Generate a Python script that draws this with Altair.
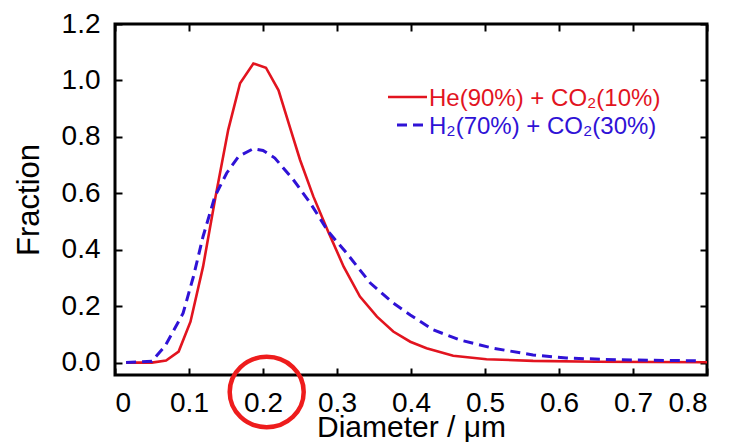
import altair as alt
import pandas as pd

# He(90%) + CO2(10%)
he_d = [0.015, 0.05, 0.069, 0.086, 0.102, 0.119, 0.136, 0.153, 0.169, 0.187, 0.204,
        0.221, 0.238, 0.25, 0.268, 0.288, 0.309, 0.331, 0.354, 0.376, 0.399, 0.421,
        0.457, 0.502, 0.565, 0.65, 0.8]
he_v = [0.0, 0.0, 0.007, 0.039, 0.145, 0.34, 0.59, 0.825, 0.99, 1.06, 1.045,
        0.965, 0.82, 0.719, 0.589, 0.465, 0.34, 0.234, 0.163, 0.11, 0.074, 0.051,
        0.024, 0.012, 0.006, 0.003, 0.001]

# H2(70%) + CO2(30%)
h2_d = [0.015, 0.05, 0.068, 0.092, 0.106, 0.119, 0.135, 0.151, 0.167, 0.187, 0.2,
        0.216, 0.241, 0.264, 0.288, 0.313, 0.345, 0.376, 0.399, 0.43, 0.466, 0.511,
        0.565, 0.61, 0.678, 0.79]
h2_v = [0.0, 0.005, 0.06, 0.175, 0.305, 0.447, 0.589, 0.672, 0.731, 0.758, 0.752,
        0.725, 0.648, 0.565, 0.465, 0.388, 0.282, 0.211, 0.169, 0.116, 0.08, 0.051,
        0.027, 0.016, 0.01, 0.006]

x_ticks = [0, 0.1, 0.2, 0.3, 0.4, 0.5, 0.6, 0.7, 0.8]
y_ticks = [0, 0.2, 0.4, 0.6, 0.8, 1.0, 1.2]

series_labels = ["He(90%) + CO₂(10%)", "H₂(70%) + CO₂(30%)"]

RED = "#e2141f"
BLUE = "#2f12d6"
FONT = "Liberation Sans"

he = pd.DataFrame({"d": he_d, "v": he_v})
h2 = pd.DataFrame({"d": h2_d, "v": h2_v})
one = pd.DataFrame({"k": [0]})

W, H = 592, 351
TK = 7

xscale = alt.Scale(domain=[0, 0.8], nice=False, zero=False)
yscale = alt.Scale(domain=[-0.044, 1.2], nice=False, zero=False)

x_bottom = alt.Axis(values=x_ticks, orient="bottom", offset=-TK, tickSize=TK, domain=False,
                    grid=False, tickColor="black", tickWidth=2, labelFontSize=28,
                    labelFont=FONT, labelColor="black", labelPadding=14, labelFontWeight="normal",
                    labelExpr="datum.value == 0 ? '0' : format(datum.value, '.1f')",
                    title="Diameter / μm", titleFont=FONT, titleFontSize=30,
                    titleFontWeight="normal", titleColor="black",
                    titleX=W / 2, titleY=68, titleBaseline="alphabetic", titleAlign="center")
y_left = alt.Axis(values=y_ticks, orient="left", offset=-TK, tickSize=TK, domain=False,
                  grid=False, tickColor="black", tickWidth=2, labelFontSize=28,
                  labelFont=FONT, labelColor="black", labelPadding=15, format=".1f",
                  labelFontWeight="normal",
                  title="Fraction", titleFont=FONT, titleFontSize=31,
                  titleFontWeight="normal", titleColor="black",
                  titleX=-93, titleY=H / 2, titleBaseline="middle", titleAlign="center",
                  titleAngle=270)
x_top = alt.Axis(values=x_ticks, orient="top", offset=-TK, tickSize=TK, domain=False,
                 grid=False, tickColor="black", tickWidth=2, labels=False, title=None)
y_right = alt.Axis(values=y_ticks, orient="right", offset=-TK, tickSize=TK, domain=False,
                   grid=False, tickColor="black", tickWidth=2, labels=False, title=None)

he_line = alt.Chart(he).mark_line(color=RED, strokeWidth=2.6).encode(
    x=alt.X("d:Q", scale=xscale, axis=x_bottom),
    y=alt.Y("v:Q", scale=yscale, axis=y_left),
)
h2_line = alt.Chart(h2).mark_line(color=BLUE, strokeWidth=3, strokeDash=[10, 6]).encode(
    x=alt.X("d:Q", scale=xscale, axis=None),
    y=alt.Y("v:Q", scale=yscale, axis=None),
)
mirror = alt.Chart(he).mark_line(opacity=0).encode(
    x=alt.X("d:Q", scale=xscale, axis=x_top),
    y=alt.Y("v:Q", scale=yscale, axis=y_right),
)

# legend
leg_red = alt.Chart(one).mark_rule(color=RED, strokeWidth=2.6).encode(
    x=alt.value(273), x2=alt.value(312), y=alt.value(73))
leg_blue = alt.Chart(one).mark_rule(color=BLUE, strokeWidth=3, strokeDash=[10, 6]).encode(
    x=alt.value(282), x2=alt.value(311), y=alt.value(101))
leg_t1 = alt.Chart(one).mark_text(text=series_labels[0], color=RED, font=FONT,
                                  fontSize=24, fontWeight="normal", align="left",
                                  baseline="middle").encode(
    x=alt.value(314), y=alt.value(75))
leg_t2 = alt.Chart(one).mark_text(text=series_labels[1], color=BLUE, font=FONT,
                                  fontSize=24, fontWeight="normal", align="left",
                                  baseline="middle").encode(
    x=alt.value(314), y=alt.value(103))

# red circle annotation around the 0.2 label
circ = alt.Chart(one).mark_point(
    shape="M-1,0A1,0.95,0,1,1,1,0A1,0.95,0,1,1,-1,0Z",
    size=74 * 74, color="#ee1c1c", strokeWidth=4.5, filled=False, opacity=1).encode(
    x=alt.X(datum=0.205, scale=xscale, axis=None), y=alt.value(368))

chart = alt.layer(he_line, h2_line, mirror, leg_red, leg_blue, leg_t1, leg_t2, circ).resolve_axis(
    x="independent", y="independent").properties(
    width=W, height=H,
    autosize=alt.AutoSizeParams(type="none"),
    padding={"left": 115, "top": 24, "right": 24, "bottom": 67},
    background="white",
).configure_view(stroke="black", strokeWidth=3)

chart.save("out.html", embed_options={"renderer": "svg", "actions": False})
